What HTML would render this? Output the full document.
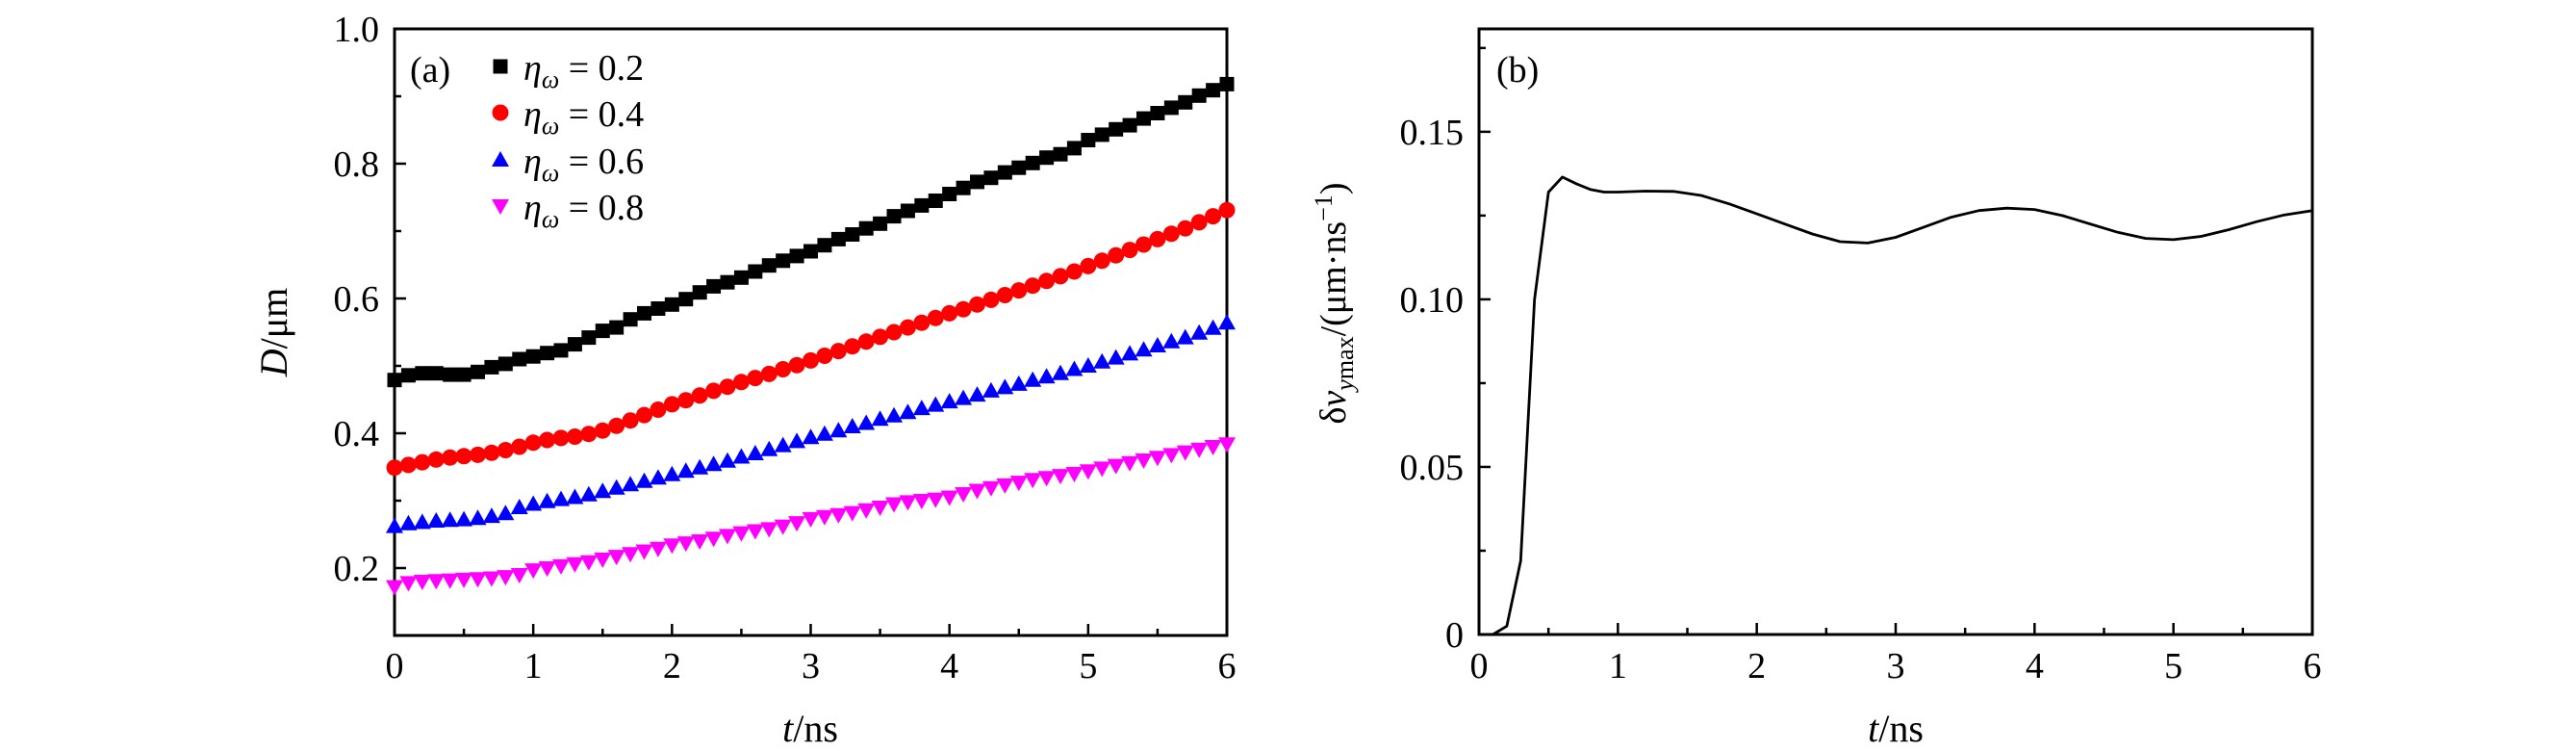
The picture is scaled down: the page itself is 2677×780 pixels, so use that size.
<!DOCTYPE html>
<html><head><meta charset="utf-8">
<style>
html,body{margin:0;padding:0;background:#fff;}
svg{display:block;font-family:"Liberation Serif","DejaVu Serif",serif;}
</style></head>
<body>
<svg id="fig" width="2677" height="780" viewBox="0 0 2677 780" xmlns="http://www.w3.org/2000/svg"></svg>
<script>
const tA = [];
for (let i = 0; i <= 60; i++) tA.push(i / 10);
const seriesBlack = [0.479,0.486,0.489,0.489,0.487,0.487,0.491,0.498,0.503,0.51,0.514,0.519,0.523,0.532,0.542,0.552,0.557,0.569,0.578,0.585,0.591,0.599,0.609,0.618,0.624,0.631,0.64,0.649,0.656,0.663,0.67,0.679,0.688,0.695,0.704,0.711,0.722,0.73,0.738,0.745,0.755,0.764,0.773,0.779,0.787,0.794,0.801,0.809,0.814,0.823,0.835,0.843,0.851,0.857,0.867,0.875,0.883,0.891,0.901,0.909,0.918];
const seriesRed = [0.349,0.353,0.357,0.361,0.364,0.366,0.368,0.371,0.375,0.38,0.386,0.39,0.393,0.395,0.399,0.404,0.411,0.419,0.427,0.435,0.443,0.449,0.456,0.463,0.469,0.476,0.482,0.488,0.495,0.501,0.508,0.515,0.522,0.529,0.536,0.543,0.55,0.557,0.564,0.571,0.578,0.584,0.591,0.598,0.605,0.612,0.619,0.626,0.633,0.64,0.648,0.656,0.664,0.672,0.68,0.688,0.696,0.704,0.713,0.722,0.731];
const seriesBlue = [0.262,0.266,0.268,0.27,0.271,0.272,0.274,0.277,0.281,0.29,0.295,0.299,0.302,0.305,0.309,0.314,0.319,0.324,0.329,0.334,0.339,0.344,0.349,0.354,0.359,0.365,0.37,0.376,0.382,0.388,0.394,0.399,0.404,0.41,0.415,0.421,0.426,0.431,0.437,0.442,0.447,0.452,0.457,0.463,0.468,0.473,0.479,0.484,0.489,0.495,0.5,0.506,0.512,0.518,0.524,0.53,0.536,0.542,0.549,0.556,0.564];
const seriesMagenta = [0.172,0.178,0.18,0.181,0.182,0.183,0.184,0.185,0.187,0.19,0.197,0.2,0.203,0.206,0.209,0.213,0.217,0.221,0.225,0.229,0.234,0.237,0.24,0.244,0.248,0.252,0.255,0.258,0.262,0.267,0.273,0.276,0.279,0.282,0.286,0.29,0.295,0.298,0.3,0.302,0.305,0.31,0.315,0.319,0.323,0.327,0.331,0.334,0.337,0.34,0.344,0.348,0.352,0.356,0.36,0.364,0.368,0.372,0.376,0.38,0.384];
const tB = [0,0.1,0.2,0.3,0.4,0.5,0.6,0.7,0.8,0.9,1.0,1.2,1.4,1.6,1.8,2.0,2.2,2.4,2.6,2.8,3.0,3.2,3.4,3.6,3.8,4.0,4.2,4.4,4.6,4.8,5.0,5.2,5.4,5.6,5.8,6.0];
const seriesB = [0,0,0.0025,0.022,0.1,0.132,0.1365,0.1345,0.1328,0.132,0.132,0.1323,0.1322,0.131,0.1285,0.1255,0.1225,0.1195,0.1172,0.1168,0.1185,0.1215,0.1245,0.1265,0.1272,0.1268,0.125,0.1225,0.12,0.1182,0.1178,0.1188,0.1208,0.1232,0.1252,0.1265];
const xTicks = [0,1,2,3,4,5,6];
const yTicksA = [0.2,0.4,0.6,0.8,1.0];
const yTicksB = [0,0.05,0.10,0.15];
const yTickLabelsB = ["0","0.05","0.10","0.15"];
const legendLabels = ["0.2","0.4","0.6","0.8"];

const NS = "http://www.w3.org/2000/svg";
const svg = document.getElementById('fig');
function mk(tag, attrs, parent) {
  const e = document.createElementNS(NS, tag);
  for (const k in attrs) e.setAttribute(k, attrs[k]);
  (parent || svg).appendChild(e);
  return e;
}
const A = {x0:410, x1:1275, y0:660, y1:30, xmin:0, xmax:6, ymin:0.1, ymax:1.0};
const B = {x0:1537, x1:2403, y0:659, y1:30, xmin:0, xmax:6, ymin:0, ymax:0.1807};
function sx(P, v){return P.x0 + (v - P.xmin)/(P.xmax - P.xmin)*(P.x1 - P.x0);}
function sy(P, v){return P.y0 - (v - P.ymin)/(P.ymax - P.ymin)*(P.y0 - P.y1);}

function axes(P, name, yt, ytl, yminor) {
  const g = mk('g', {});
  
  
  const f = mk('rect', {x:P.x0, y:P.y1, width:P.x1-P.x0, height:P.y0-P.y1, fill:'none', stroke:'#000', 'stroke-width':3}, g);
  
  
  for (let v = 0; v <= 6.001; v += 0.5) {
    const x = sx(P, v);
    const major = Math.abs(v - Math.round(v)) < 1e-6;
    mk('line', {x1:x, x2:x, y1:P.y0, y2:P.y0 - (major?12:7), stroke:'#000', 'stroke-width':2.5}, g);
  }
  xTicks.forEach(v => {
    const t = mk('text', {x:sx(P, v), y:704, 'font-size':38, 'text-anchor':'middle'}, g);
    
    
    t.textContent = v;
  });
  yminor.forEach(v => {
    mk('line', {x1:P.x0, x2:P.x0 + 7, y1:sy(P, v), y2:sy(P, v), stroke:'#000', 'stroke-width':2.5}, g);
  });
  yt.forEach((v, i) => {
    const y = sy(P, v);
    mk('line', {x1:P.x0, x2:P.x0 + 12, y1:y, y2:y, stroke:'#000', 'stroke-width':2.5}, g);
    const t = mk('text', {x:P.x0 - 16, y:y + 13, 'font-size':38, 'text-anchor':'end'}, g);
    
    
    t.textContent = ytl[i];
  });
}
axes(A, 'panel-a', yTicksA, yTicksA.map(v => v.toFixed(1)), [0.3,0.5,0.7,0.9]);
axes(B, 'panel-b', yTicksB, yTickLabelsB, [0.025,0.075,0.125,0.175]);

function marker(shape, cx, cy, color, parent) {
  let e;
  if (shape === 'square') e = mk('rect', {x:cx-7.5, y:cy-7.5, width:15, height:15, fill:color}, parent);
  else if (shape === 'circle') e = mk('circle', {cx:cx, cy:cy, r:8.5, fill:color}, parent);
  else if (shape === 'up') e = mk('polygon', {points:`${cx-9},${cy+7} ${cx+9},${cy+7} ${cx},${cy-9}`, fill:color}, parent);
  else e = mk('polygon', {points:`${cx-9},${cy-7} ${cx+9},${cy-7} ${cx},${cy+9}`, fill:color}, parent);
  return e;
}
const seriesDefs = [
  {vals: seriesBlack, shape:'square', color:'#000000', name:'eta-0-2'},
  {vals: seriesRed, shape:'circle', color:'#ff0000', name:'eta-0-4'},
  {vals: seriesBlue, shape:'up', color:'#0000ff', name:'eta-0-6'},
  {vals: seriesMagenta, shape:'down', color:'#ff00ff', name:'eta-0-8'}
];
seriesDefs.forEach(s => {
  const g = mk('g', {});
  
  
  s.vals.forEach((v, i) => {
    const m = marker(s.shape, sx(A, tA[i]), sy(A, v), s.color, g);
    
    
  });
});

const lg = mk('g', {});


const rows = [71, 119, 168, 216];
seriesDefs.forEach((s, i) => {
  const m = marker(s.shape, 520, rows[i] - 2, s.color, lg);
  
  
  const t = mk('text', {x:544, y:rows[i] + 12, 'font-size':38}, lg);
  
  
  t.innerHTML = '<tspan font-style="italic">η</tspan><tspan font-style="italic" font-size="26" dy="8">ω</tspan><tspan dy="-8"> = ' + legendLabels[i] + '</tspan>';
});

let d = '';
tB.forEach((t, i) => { d += (i ? 'L' : 'M') + sx(B, t).toFixed(1) + ',' + sy(B, seriesB[i]).toFixed(1); });
const ln = mk('path', {d:d, fill:'none', stroke:'#000', 'stroke-width':2.8, 'stroke-linejoin':'round'});



function txt(name, attrs, html) {
  const t = mk('text', attrs);
  
  
  t.innerHTML = html;
  return t;
}
txt('panel-a-label', {x:426, y:85, 'font-size':38}, '(a)');
txt('panel-b-label', {x:1555, y:85, 'font-size':38}, '(b)');
txt('panel-a-x-axis-title', {x:842, y:770, 'font-size':40, 'text-anchor':'middle'}, '<tspan font-style="italic">t</tspan>/ns');
txt('panel-b-x-axis-title', {x:1970, y:770, 'font-size':40, 'text-anchor':'middle'}, '<tspan font-style="italic">t</tspan>/ns');
txt('panel-a-y-axis-title', {x:0, y:0, 'font-size':40, 'text-anchor':'middle', transform:'translate(298,345) rotate(-90)'}, '<tspan font-style="italic">D</tspan>/μm');
txt('panel-b-y-axis-title', {x:0, y:0, 'font-size':38, 'text-anchor':'middle', transform:'translate(1398,315) rotate(-90)'}, 'δ<tspan font-style="italic">v</tspan><tspan font-size="26" dy="8"><tspan font-style="italic">y</tspan>max</tspan><tspan dy="-8">/(μm·ns</tspan><tspan font-size="26" dy="-14">−1</tspan><tspan dy="14">)</tspan>');
</script>
</body></html>
